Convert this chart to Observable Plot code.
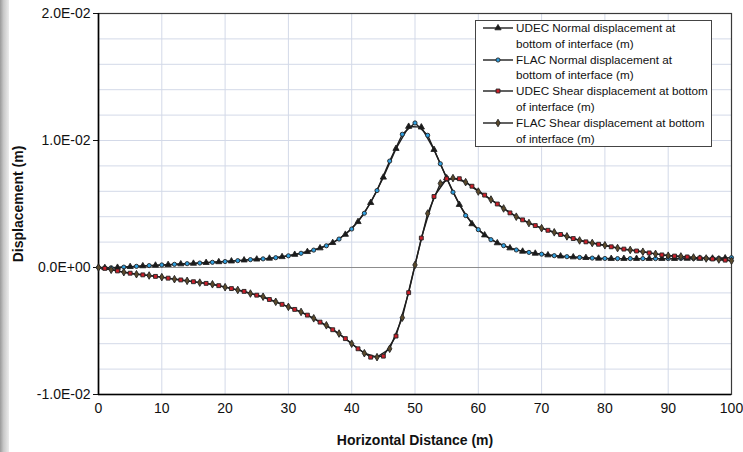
<!DOCTYPE html>
<html>
<head>
<meta charset="utf-8">
<script src="https://cdn.jsdelivr.net/npm/d3@7"></script>
<script src="https://cdn.jsdelivr.net/npm/@observablehq/plot@0.6"></script>
<style>
  html, body { margin: 0; padding: 0; background: #fff; }
  #wrap { position: relative; width: 743px; height: 452px; overflow: hidden; font-family: 'Liberation Sans', Arial, sans-serif; }
  #edge { position: absolute; left: 0; top: 0; width: 9px; height: 452px; background: linear-gradient(to right, #9a9a9a, #c8c8c8 40%, #ececec); }
  #legend { position: absolute; left: 475px; top: 20px; width: 237px; height: 127px; border: 1px solid #444; background: #fff; box-sizing: border-box; }
  .entry { position: absolute; left: 6px; font-size: 11.7px; line-height: 15.8px; color: #111; }
  .entry svg { position: absolute; left: 0; top: 2px; }
  .entry .txt { position: absolute; left: 34px; top: 0; white-space: nowrap; }
</style>
</head>
<body>
<div id="wrap"><div id="edge"></div></div>
<script>
// ---- data (displacements in mm, converted to m for plotting) ----
const flacX = [0,2,4,6,8,10,12,14,16,18,20,22,24,26,28,30,32,34,36,38,40,42,44,46,48,50,52,54,56,58,60,62,64,66,68,70,72,74,76,78,80,82,84,86,88,90,92,94,96,98,100];
const udecX = [1,3,5,7,9,11,13,15,17,19,21,23,25,27,29,31,33,35,37,39,41,43,45,47,49,51,53,55,57,59,61,63,65,67,69,71,73,75,77,79,81,83,85,87,89,91,93,95,97,99];

const flacNormalMm = [0.0,-0.02,0.03,0.09,0.15,0.2,0.25,0.3,0.35,0.41,0.47,0.54,0.62,0.68,0.77,0.92,1.12,1.37,1.71,2.24,3.03,4.27,6.06,8.38,10.49,11.38,10.41,8.17,5.93,4.09,2.98,2.19,1.72,1.38,1.19,1.05,0.93,0.85,0.79,0.74,0.71,0.70,0.70,0.70,0.70,0.70,0.71,0.71,0.72,0.73,0.77];
const udecNormalMm = [-0.02,0.0,0.06,0.12,0.17,0.22,0.27,0.32,0.38,0.44,0.5,0.58,0.65,0.72,0.84,1.02,1.24,1.53,1.95,2.6,3.6,5.1,7.1,9.36,11.1,11.05,9.28,7.05,4.95,3.43,2.55,1.93,1.53,1.27,1.11,0.98,0.89,0.82,0.77,0.72,0.70,0.70,0.70,0.70,0.70,0.70,0.71,0.71,0.72,0.74];
const flacShearMm = [0.0,-0.18,-0.37,-0.53,-0.63,-0.76,-0.92,-1.05,-1.19,-1.32,-1.55,-1.77,-2.05,-2.3,-2.7,-3.1,-3.5,-4.0,-4.55,-5.2,-6.0,-6.75,-7.06,-6.4,-3.95,0.2,4.25,6.62,7.04,6.72,5.98,5.35,4.65,4.0,3.5,3.1,2.77,2.45,2.13,1.93,1.75,1.53,1.38,1.24,1.07,0.93,0.87,0.79,0.71,0.63,0.53];
const udecShearMm = [-0.07,-0.27,-0.45,-0.58,-0.7,-0.84,-0.98,-1.12,-1.25,-1.43,-1.66,-1.88,-2.18,-2.52,-2.9,-3.3,-3.75,-4.3,-4.9,-5.6,-6.4,-7.06,-6.98,-5.4,-1.98,2.32,5.59,6.99,6.99,6.4,5.7,5.0,4.3,3.75,3.3,2.93,2.6,2.28,2.02,1.83,1.63,1.45,1.3,1.15,0.99,0.9,0.83,0.75,0.67,0.58];

const seriesNames = [
  "UDEC Normal displacement at bottom of interface (m)",
  "FLAC Normal displacement at bottom of interface (m)",
  "UDEC Shear displacement at bottom of interface (m)",
  "FLAC Shear displacement at bottom of interface (m)"
];
const legendLines = [
  ["UDEC Normal displacement at", "bottom of interface (m)"],
  ["FLAC Normal displacement at", "bottom of interface (m)"],
  ["UDEC Shear displacement at bottom", "of interface (m)"],
  ["FLAC Shear displacement at bottom", "of interface (m)"]
];

const xTicks = [0,10,20,30,40,50,60,70,80,90,100];
const yTicks = [-0.01, 0, 0.01, 0.02];
const yTickLabels = ["-1.0E-02", "0.0E+00", "1.0E-02", "2.0E-02"];
const yGrid = [-0.008,-0.006,-0.004,-0.002,0.002,0.004,0.006,0.008,0.01,0.012,0.014,0.016,0.018];
const xTitle = "Horizontal Distance (m)";
const yTitle = "Displacement (m)";

// ---- styling ----
const symbols = ["triangle", "circle", "square", "diamond"];
const fills = ["#1a1a1a", "#2f9fe0", "#cc1f2a", "#5b4a2c"];
const radii = [2.3, 2.1, 2.2, 2.3];

const build = (xs, vs) => xs.map((x, i) => ({x, y: vs[i] / 1000}));
const series = [
  build(udecX, udecNormalMm),
  build(flacX, flacNormalMm),
  build(udecX, udecShearMm),
  build(flacX, flacShearMm)
];

const lineMarks = series.map(data => Plot.line(data, {x: "x", y: "y", stroke: "#1e1e1e", strokeWidth: 1.4}));
const dotMarks = series.map((data, k) => Plot.dot(data, {x: "x", y: "y", symbol: () => symbols[k], r: radii[k], fill: fills[k], stroke: "#222", strokeWidth: 0.9}));

const chart = Plot.plot({
  width: 743,
  height: 452,
  marginLeft: 98,
  marginRight: 12,
  marginTop: 13,
  marginBottom: 58,
  x: {domain: [0, 100]},
  y: {domain: [-0.01, 0.02]},
  style: {fontFamily: "'Liberation Sans', Arial, sans-serif", fontSize: "14px", color: "#111", background: "transparent"},
  marks: [
    Plot.gridY(yGrid, {stroke: "#d3d9e8", strokeOpacity: 1}),
    Plot.gridX(xTicks, {stroke: "#d3d9e8", strokeOpacity: 1}),
    Plot.ruleY([0], {stroke: "#8c8c8c", strokeWidth: 1.2}),
    Plot.frame({stroke: "#3a3a3a", strokeWidth: 1.2}),
    Plot.axisY(yTicks, {tickSize: 5, tickPadding: 3, stroke: "#111", tickFormat: d => yTickLabels[yTicks.indexOf(d)], label: null}),
    Plot.axisX(xTicks, {tickSize: 0, tickPadding: 9, tickFormat: d => String(d), label: null}),
    Plot.text([yTitle], {frameAnchor: "left", dx: -80, rotate: -90, textAnchor: "middle", lineAnchor: "middle", fontWeight: "bold", fontSize: 14}),
    Plot.text([xTitle], {frameAnchor: "bottom", dy: 46, textAnchor: "middle", lineAnchor: "middle", fontWeight: "bold", fontSize: 14}),
    Plot.ruleX([0], {stroke: "#000", strokeWidth: 1.6}),
    Plot.ruleY([-0.01], {stroke: "#000", strokeWidth: 1.6}),
    ...lineMarks,
    ...dotMarks
  ]
});
document.getElementById("wrap").appendChild(chart);

// ---- legend ----
const legend = document.createElement("div");
legend.id = "legend";
const symMap = {triangle: d3.symbolTriangle, circle: d3.symbolCircle, square: d3.symbolSquare, diamond: d3.symbolDiamond};
legendLines.forEach((lines, k) => {
  const e = document.createElement("div");
  e.className = "entry";
  e.style.top = (-1 + k * 31.6) + "px";
  e.title = seriesNames[k];
  const sw = d3.create("svg").attr("width", 32).attr("height", 12);
  sw.append("line").attr("x1", 1).attr("x2", 31).attr("y1", 6).attr("y2", 6).attr("stroke", "#1e1e1e").attr("stroke-width", 1.4);
  sw.append("path").attr("transform", "translate(16,6)")
    .attr("d", d3.symbol(symMap[symbols[k]], Math.PI * radii[k] * radii[k])())
    .attr("fill", fills[k]).attr("stroke", "#222").attr("stroke-width", 0.9);
  e.appendChild(sw.node());
  const t = document.createElement("div");
  t.className = "txt";
  t.innerHTML = lines.join("<br>");
  e.appendChild(t);
  legend.appendChild(e);
});
document.getElementById("wrap").appendChild(legend);
</script>
</body>
</html>
